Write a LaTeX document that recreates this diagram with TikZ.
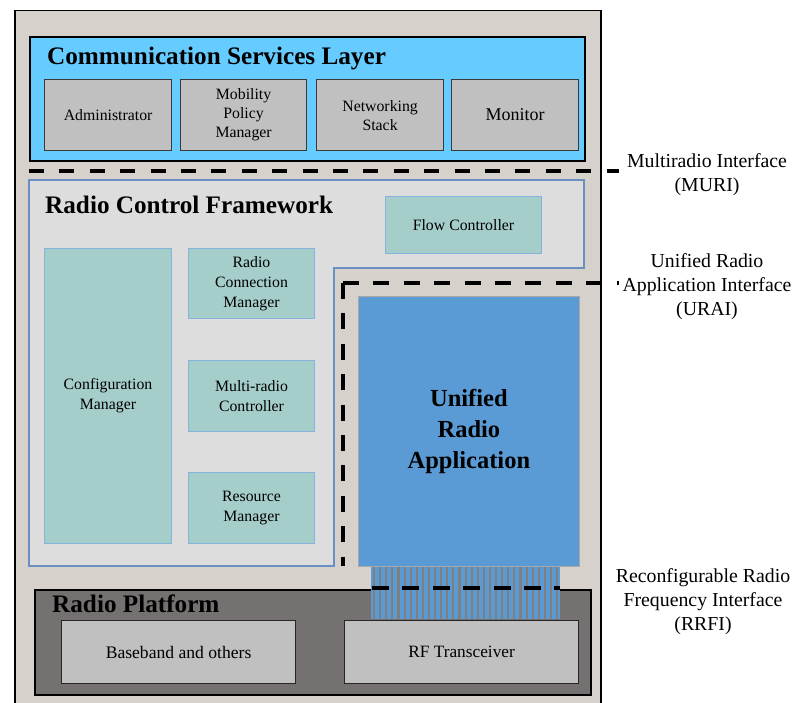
\documentclass[tikz,border=0pt]{standalone}
\usepackage{fontspec}
\setmainfont{Liberation Serif}
\definecolor{outerbg}{HTML}{D6D2CB}
\definecolor{cslbg}{HTML}{66CCFF}
\definecolor{graybg}{HTML}{C0C0C0}
\definecolor{boxedge}{HTML}{3A3A3A}
\definecolor{rcfbg}{HTML}{DDDDDD}
\definecolor{rcfedge}{HTML}{6A90C2}
\definecolor{tealbg}{HTML}{A5CECB}
\definecolor{tealedge}{HTML}{86B2DE}
\definecolor{urablue}{HTML}{5B9BD5}
\definecolor{uraedge}{HTML}{A8A8A8}
\definecolor{stripegray}{HTML}{7F7F7F}
\definecolor{platbg}{HTML}{767171}
\begin{document}
\begin{tikzpicture}[x=1pt,y=-1pt,
  graybox/.style={draw=boxedge, fill=graybg, line width=1.2pt, anchor=north west, align=center, inner sep=0pt, font=\fontsize{15.8}{19}\selectfont},
  tealbox/.style={draw=tealedge, fill=tealbg, line width=1pt, anchor=north west, align=center, inner sep=0pt, font=\fontsize{15.8}{20}\selectfont},
  layertitle/.style={anchor=base west, inner sep=0pt, font=\fontsize{25.2}{28}\selectfont\bfseries},
  iface/.style={line width=4.6pt, dash pattern=on 15pt off 15.4pt},
  ifaceb/.style={line width=4.6pt, dash pattern=on 16pt off 14.4pt},
  ifacelbl/.style={align=center, inner sep=0pt, font=\fontsize{19.8}{24}\selectfont}
]
\clip (0,0) rectangle (794,703);
\useasboundingbox (0,0) rectangle (794,703);

% outer frame
\node[draw=black, fill=outerbg, line width=1.5pt, anchor=north west, minimum width=586pt, minimum height=710pt, inner sep=0pt] (frame) at (14,10) {};

% Communication Services Layer
\node[draw=black, fill=cslbg, line width=2pt, anchor=north west, minimum width=555pt, minimum height=124pt, inner sep=0pt] (csl) at (29,36) {};
\node[layertitle] (csltitle) at (47,65) {Communication Services Layer};
\node[graybox, minimum width=127pt, minimum height=71pt] (adm) at (44,79) {Administrator};
\node[graybox, minimum width=126pt, minimum height=71pt] (mob) at (180,79) {Mobility\\Policy\\Manager};
\node[graybox, minimum width=127pt, minimum height=71pt] (net) at (316,79) {Networking\\Stack};
\node[graybox, minimum width=127pt, minimum height=71pt, font=\fontsize{18}{22}\selectfont] (mon) at (451,79) {Monitor};

% Radio Control Framework
\draw[draw=rcfedge, fill=rcfbg, line width=1.3pt] (29,180) -- (584,180) -- (584,268) -- (334,268) -- (334,566) -- (29,566) -- cycle;
\node[layertitle] (rcftitle) at (45,214) {Radio Control Framework};
\node[tealbox, minimum width=156pt, minimum height=57pt] (flow) at (385,196) {Flow Controller};
\node[tealbox, minimum width=127pt, minimum height=295pt] (conf) at (44,248) {Configuration\\Manager};
\node[tealbox, minimum width=126pt, minimum height=70pt] (rcm) at (188,248) {Radio\\Connection\\Manager};
\node[tealbox, minimum width=126pt, minimum height=71pt] (mrc) at (188,360) {Multi-radio\\Controller};
\node[tealbox, minimum width=126pt, minimum height=71pt] (res) at (188,472) {Resource\\Manager};

% Unified Radio Application
\node[draw=uraedge, fill=urablue, line width=0.8pt, anchor=north west, minimum width=221pt, minimum height=270pt, inner sep=0pt, align=center, font=\fontsize{24.5}{31}\selectfont\bfseries] (ura) at (358,296) {Unified\\Radio\\Application};

% Radio Platform
\node[draw=black, fill=platbg, line width=1.5pt, anchor=north west, minimum width=556pt, minimum height=105pt, inner sep=0pt] (plat) at (34,589) {};
\node[layertitle] (plattitle) at (52,612) {Radio Platform};
\node[graybox, draw=black!85, minimum width=234pt, minimum height=63pt, font=\fontsize{17.6}{20}\selectfont] (bb) at (61,620) {Baseband and others};
\node[graybox, draw=black!85, minimum width=234pt, minimum height=63pt, font=\fontsize{17.3}{20}\selectfont] (rf) at (344,620) {RF Transceiver};

% striped link between application and RF transceiver
\fill[urablue] (371,566.6) rectangle (560,619.4);
\foreach \i in {0,...,30} {\fill[stripegray] ({373+\i*6.1},567) rectangle ++(2.1,52.4);}

% interfaces
\coordinate (muriL) at (29,171);
\coordinate (muriR) at (619,171);
\draw[iface] (muriL) -- (muriR);
\coordinate (uraiC) at (343,283);
\coordinate (uraiB) at (343,566);
\coordinate (uraiR) at (619,283);
\draw[ifaceb] (uraiC) -- (uraiB);
\draw[ifaceb] (uraiC) -- (uraiR);
\coordinate (rrfiL) at (372,588);
\coordinate (rrfiR) at (560,588);
\draw[line width=4pt, dash pattern=on 17pt off 13.4pt] (rrfiL) -- (rrfiR);

% interface labels
\node[ifacelbl] (muri) at (707,175) {Multiradio Interface\\(MURI)};
\node[ifacelbl] (urai) at (707,286.5) {Unified Radio\\Application Interface\\(URAI)};
\node[ifacelbl] (rrfi) at (703,601.5) {Reconfigurable Radio\\Frequency Interface\\(RRFI)};
\end{tikzpicture}
\end{document}
